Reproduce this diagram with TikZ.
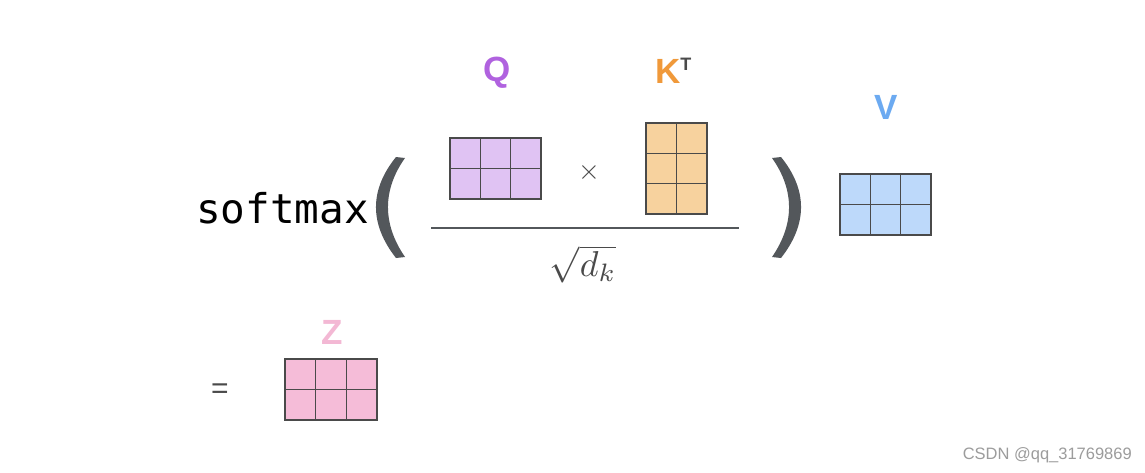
\documentclass[tikz,border=0pt]{standalone}
\usepackage{graphicx}
\usepackage{fontspec}
\setmainfont{Liberation Sans}
\newfontfamily\monofont{DejaVu Sans Mono}
\usetikzlibrary{calc}
\definecolor{qfill}{HTML}{E0C3F3}
\definecolor{qlab}{HTML}{B062DF}
\definecolor{kfill}{HTML}{F7D29E}
\definecolor{klab}{HTML}{F0993A}
\definecolor{vfill}{HTML}{BDD9FA}
\definecolor{vlab}{HTML}{6CAAF1}
\definecolor{zfill}{HTML}{F5BCD8}
\definecolor{zlab}{HTML}{F3B8D4}
\definecolor{gridc}{HTML}{4A4A4A}
\definecolor{paren}{HTML}{53575B}
\definecolor{txtg}{HTML}{4A4A4A}
\definecolor{wm}{HTML}{9C9C9C}
\tikzset{
  mat/.style={draw=gridc, line width=1.4pt, inner sep=0pt, outer sep=0pt},
  gline/.style={draw=gridc, line width=1.4pt},
  lab/.style={inner sep=0pt, anchor=base, font=\fontsize{35}{35}\selectfont\bfseries},
}
\begin{document}
\begin{tikzpicture}[x=1pt,y=-1pt]
\useasboundingbox[fill=white] (0,0) rectangle (1145,472);

% softmax
\node[inner sep=0pt, anchor=base west, font=\monofont\fontsize{41}{41}\selectfont, text=black] (sm) at (196,223) {softmax};

% parentheses
\fill[paren] (396,157) .. controls (369.3,190) and (369.3,224) .. (396,258)
  -- (405,257) .. controls (382.3,224) and (382.3,190) .. (405,158) -- cycle;
\fill[paren] (781,157) .. controls (807.7,190) and (807.7,224) .. (781,258)
  -- (772,257) .. controls (794.7,224) and (794.7,190) .. (772,158) -- cycle;

% Q matrix 3x2
\node[mat, fill=qfill, minimum width=91pt, minimum height=61pt] (Qm) at (495.5,168.5) {};
\foreach \f in {1/3,2/3}
  \draw[gline] ($(Qm.north west)!\f!(Qm.north east)$) -- ($(Qm.south west)!\f!(Qm.south east)$);
\draw[gline] (Qm.west) -- (Qm.east);
\node[lab, text=qlab] (Ql) at (497,81) {Q};

% times
\node[inner sep=0pt, text=txtg] (times) at (589,172) {\scalebox{2.8}{$\times$}};

% K^T matrix 2x3
\node[mat, fill=kfill, minimum width=61pt, minimum height=91pt] (Km) at (676.5,168.5) {};
\foreach \f in {1/3,2/3}
  \draw[gline] ($(Km.north west)!\f!(Km.south west)$) -- ($(Km.north east)!\f!(Km.south east)$);
\draw[gline] (Km.north) -- (Km.south);
\node[lab, anchor=base west, text=klab] (Kl) at (655,83) {K\raisebox{13pt}{\color{txtg}\fontsize{18}{18}\selectfont T}};

% fraction bar
\coordinate (fb1) at (431,228);
\coordinate (fb2) at (739,228);
\draw[paren, line width=2pt] (fb1) -- (fb2);

% sqrt d_k
\node[inner sep=0pt, text=txtg] (sq) at (583,264) {\scalebox{3.6}{$\sqrt{d_k}$}};

% V matrix 3x2
\node[mat, fill=vfill, minimum width=91pt, minimum height=61pt] (Vm) at (885.5,204.5) {};
\foreach \f in {1/3,2/3}
  \draw[gline] ($(Vm.north west)!\f!(Vm.north east)$) -- ($(Vm.south west)!\f!(Vm.south east)$);
\draw[gline] (Vm.west) -- (Vm.east);
\node[lab, text=vlab] (Vl) at (886,119) {V};

% equals
\node[inner sep=0pt, anchor=base, text=txtg, font=\fontsize{30}{30}\selectfont] (eq) at (220,398) {=};

% Z matrix 3x2
\node[mat, fill=zfill, minimum width=92pt, minimum height=61pt] (Zm) at (331,389.5) {};
\foreach \f in {1/3,2/3}
  \draw[gline] ($(Zm.north west)!\f!(Zm.north east)$) -- ($(Zm.south west)!\f!(Zm.south east)$);
\draw[gline] (Zm.west) -- (Zm.east);
\node[lab, text=zlab] (Zl) at (332,344) {Z};

% watermark
\node[inner sep=0pt, anchor=base east, text=wm, font=\fontsize{16.5}{16.5}\selectfont] (wmk) at (1132,459) {CSDN @qq\_31769869};
\end{tikzpicture}
\end{document}
